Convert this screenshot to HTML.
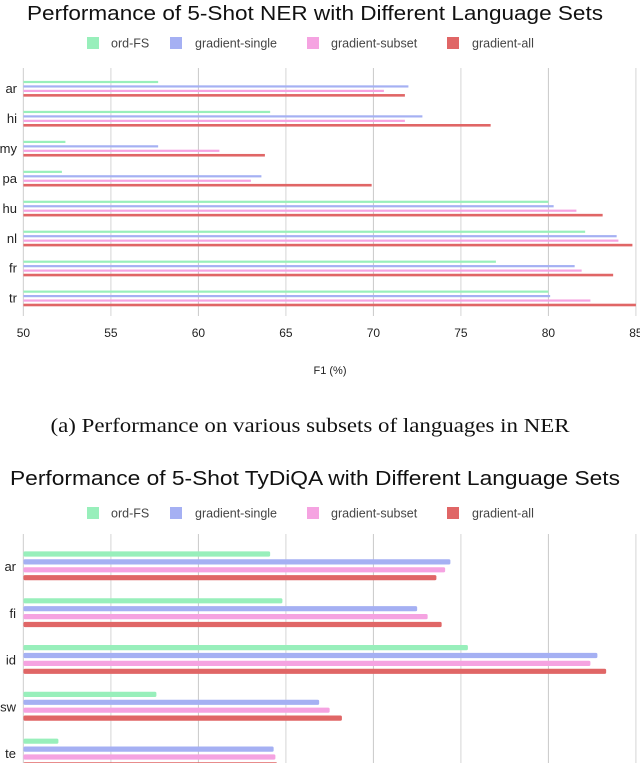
<!DOCTYPE html>
<html><head><meta charset="utf-8"><style>
body{margin:0;background:#fff;}
svg{display:block;}
text{font-family:"Liberation Sans",sans-serif;}
</style></head><body>
<svg id="c" width="640" height="763" viewBox="0 0 640 763">
<text x="315" y="20" text-anchor="middle" font-size="20" textLength="576" lengthAdjust="spacingAndGlyphs" fill="#111">Performance of 5-Shot NER with Different Language Sets</text>
<g id="leg1"></g>
<g id="ner"></g>
<text x="330" y="374" text-anchor="middle" font-size="11" fill="#222">F1 (%)</text>
<text x="310" y="432" text-anchor="middle" font-size="20" font-family="Liberation Serif, serif" style="font-family:'Liberation Serif',serif" textLength="519" lengthAdjust="spacingAndGlyphs" fill="#111">(a) Performance on various subsets of languages in NER</text>
<text x="315" y="485" text-anchor="middle" font-size="20" textLength="610" lengthAdjust="spacingAndGlyphs" fill="#111">Performance of 5-Shot TyDiQA with Different Language Sets</text>
<g id="leg2"></g>
<g id="qa"></g>
</svg>
<script>
const seriesNames = ["ord-FS","gradient-single","gradient-subset","gradient-all"];
const colors = ["#98efbb","#a5b0f3","#f5a3e1","#e06666"];
const xTicks = [50,55,60,65,70,75,80,85];
const nerLangs = ["ar","hi","my","pa","hu","nl","fr","tr"];
const nerOrdFS = [57.7,64.1,52.4,52.2,80.0,82.1,77.0,80.0];
const nerSingle = [72.0,72.8,57.7,63.6,80.3,83.9,81.5,80.1];
const nerSubset = [70.6,71.8,61.2,63.0,81.6,84.0,81.9,82.4];
const nerAll = [71.8,76.7,63.8,69.9,83.1,84.8,83.7,85.0];
const qaLangs = ["ar","fi","id","sw","te"];
const qaOrdFS = [64.1,64.8,75.4,57.6,52.0];
const qaSingle = [74.4,72.5,82.8,66.9,64.3];
const qaSubset = [74.1,73.1,82.4,67.5,64.4];
const qaAll = [73.6,73.9,83.3,68.2,64.5];

const NS="http://www.w3.org/2000/svg";
function mk(t,a,p){const e=document.createElementNS(NS,t);for(const k in a)e.setAttribute(k,a[k]);p.appendChild(e);return e;}
const x0=23.4, pxPer=17.5;
function xs(v){return x0+(v-50)*pxPer;}

function legend(g,y){
  const sx=[87,170,307,447], tx=[111,195,331,472];
  seriesNames.forEach((n,i)=>{
    const r=mk('rect',{x:sx[i],y:y-6,width:12,height:12,fill:colors[i]},g);
    
    
    const t=mk('text',{x:tx[i],y:y+4.5,'font-size':12.5,fill:'#444'},g);
    t.textContent=n;
    
    
  });
}
legend(document.getElementById('leg1'),43);
legend(document.getElementById('leg2'),513);

// NER chart
(function(){
  const g=document.getElementById('ner');
  const top=68,bot=316;
  xTicks.forEach((v,i)=>{
    const l=mk('line',{x1:xs(v),x2:xs(v),y1:top,y2:bot,stroke:(v%10===0&&v!==50)?'#c8c8c8':'#d6d6d6','stroke-width':(i===0)?1.2:1},g);
    
    
    const t=mk('text',{x:xs(v),y:337,'text-anchor':'middle','font-size':12,fill:'#222'},g);
    t.textContent=v;
    
    
  });
  const data=[nerOrdFS,nerSingle,nerSubset,nerAll];
  nerLangs.forEach((lang,i)=>{
    const gy=82+i*29.95;
    const t=mk('text',{x:17,y:gy+11,'text-anchor':'end','font-size':13,fill:'#222'},g);
    t.textContent=lang;
    
    
    data.forEach((arr,s)=>{
      const h=s===3?2.6:2.2;
      const r=mk('rect',{x:x0,y:gy+s*4.45-h/2,width:xs(arr[i])-x0,height:h,fill:colors[s]},g);
      
      
    });
  });
})();

// TyDiQA chart
(function(){
  const g=document.getElementById('qa');
  const top=534,bot=763;
  xTicks.forEach((v,i)=>{
    const l=mk('line',{x1:xs(v),x2:xs(v),y1:top,y2:bot,stroke:(v%10===0&&v!==50)?'#c8c8c8':'#d6d6d6','stroke-width':(i===0)?1.2:1},g);
    
    
  });
  const data=[qaOrdFS,qaSingle,qaSubset,qaAll];
  qaLangs.forEach((lang,i)=>{
    const gy=554+i*46.8;
    const t=mk('text',{x:16,y:gy+17,'text-anchor':'end','font-size':13,fill:'#222'},g);
    t.textContent=lang;
    
    
    data.forEach((arr,s)=>{
      const r=mk('rect',{x:x0,y:gy+s*7.9-2.6,width:xs(arr[i])-x0,height:5.2,rx:1.5,fill:colors[s]},g);
      
      
    });
  });
})();
</script>
</body></html>
